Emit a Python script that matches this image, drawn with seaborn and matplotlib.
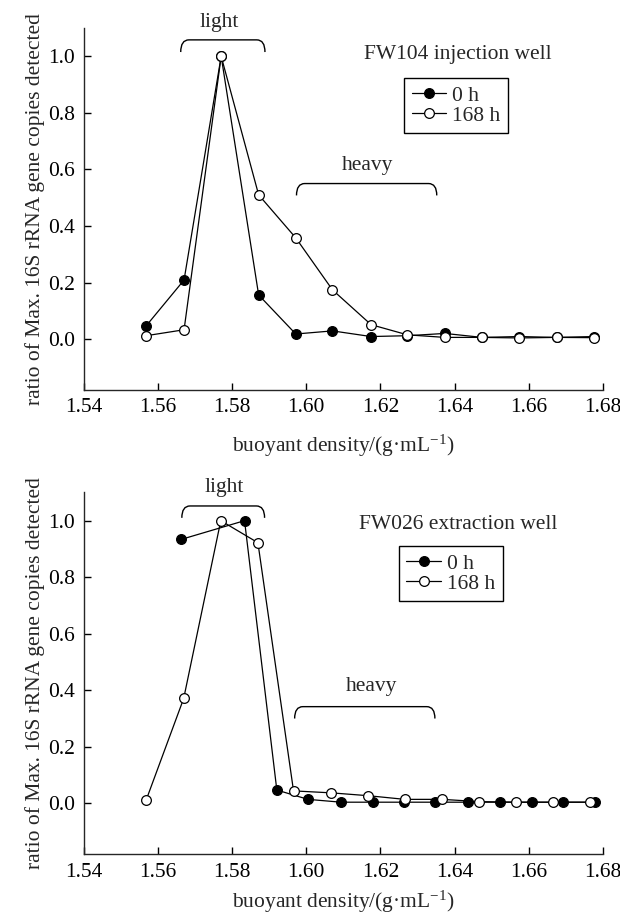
import matplotlib
matplotlib.use("Agg")
import matplotlib.pyplot as plt
from matplotlib.path import Path
from matplotlib.patches import PathPatch
import seaborn as sns
import pandas as pd

# ---------------- data ----------------
top_x = [1.5569, 1.5671, 1.5771, 1.5872, 1.5972, 1.6071, 1.6175,
         1.6273, 1.6374, 1.6474, 1.6574, 1.6675, 1.6776]
top_0h = [0.047, 0.209, 1.0, 0.156, 0.018, 0.029, 0.009,
          0.012, 0.020, 0.006, 0.009, 0.006, 0.009]
top_168h = [0.012, 0.033, 1.0, 0.51, 0.358, 0.174, 0.051,
            0.015, 0.006, 0.006, 0.004, 0.006, 0.005]

bot_x_0h = [1.5664, 1.5834, 1.5921, 1.6005, 1.6094, 1.6181, 1.6264,
            1.6347, 1.6437, 1.6523, 1.6608, 1.6693, 1.6779]
bot_0h = [0.934, 1.0, 0.047, 0.014, 0.004, 0.004, 0.004,
          0.004, 0.004, 0.004, 0.004, 0.004, 0.004]
bot_x_168h = [1.5569, 1.5670, 1.5770, 1.5870, 1.5966, 1.6068, 1.6167,
              1.6266, 1.6367, 1.6466, 1.6566, 1.6665, 1.6765]
bot_168h = [0.012, 0.371, 1.0, 0.922, 0.044, 0.037, 0.027,
            0.014, 0.014, 0.006, 0.004, 0.004, 0.004]

series_labels = ["0 h", "168 h"]
panel_titles = ["FW104 injection well", "FW026 extraction well"]
x_ticks = [1.54, 1.56, 1.58, 1.60, 1.62, 1.64, 1.66, 1.68]
y_ticks = [0.0, 0.2, 0.4, 0.6, 0.8, 1.0]
x_label = "buoyant density/(g·mL$^{-1}$)"
y_label = "ratio of Max. 16S rRNA gene copies detected"

# ---------------- style ----------------
sns.set_style("ticks")
plt.rcParams["font.family"] = ["Liberation Serif", "DejaVu Serif"]
plt.rcParams["mathtext.fontset"] = "custom"
plt.rcParams["mathtext.rm"] = "Liberation Serif"
plt.rcParams["mathtext.it"] = "Liberation Serif:italic"
plt.rcParams["axes.linewidth"] = 1.0

FS = 15.5
W, H = 620, 918
fig = plt.figure(figsize=(W / 100, H / 100), dpi=100)

left = 83.5 / W
width = (603 - 83.5) / W
ax_top = fig.add_axes([left, 1 - 390 / H, width, (390 - 28) / H])
ax_bot = fig.add_axes([left, 1 - 854.2 / H, width, (854.2 - 492.4) / H])


def bracket(ax, x0, x1, ytop, yend, dx=0.0022):
    verts = [(x0, yend), (x0, ytop), (x0 + dx, ytop),
             (x1 - dx, ytop), (x1, ytop), (x1, yend)]
    codes = [Path.MOVETO, Path.CURVE3, Path.CURVE3,
             Path.LINETO, Path.CURVE3, Path.CURVE3]
    patch = PathPatch(Path(verts, codes), facecolor="none", edgecolor="black",
                      lw=1.0, transform=ax.transData, clip_on=False)
    ax.add_patch(patch)


def draw_panel(ax, x0h, y0h, x168, y168, title, title_xy, legend_anchor,
               light, heavy, xlabelpad):
    d0 = pd.DataFrame({"x": x0h, "y": y0h})
    d1 = pd.DataFrame({"x": x168, "y": y168})
    sns.lineplot(data=d0, x="x", y="y", ax=ax, color="black", lw=0.9,
                 marker="o", markersize=7, markerfacecolor="black",
                 markeredgecolor="black", markeredgewidth=0.9,
                 label=series_labels[0], estimator=None, clip_on=False)
    sns.lineplot(data=d1, x="x", y="y", ax=ax, color="black", lw=0.9,
                 marker="o", markersize=7, markerfacecolor="white",
                 markeredgecolor="black", markeredgewidth=0.9,
                 label=series_labels[1], estimator=None, clip_on=False)
    ax.set_xlim(1.54, 1.68)
    ax.set_ylim(-0.18, 1.10)
    ax.set_xticks(x_ticks)
    ax.set_xticklabels([f"{v:.2f}" for v in x_ticks])
    ax.set_yticks(y_ticks)
    ax.set_yticklabels([f"{v:.1f}" for v in y_ticks])
    ax.tick_params(direction="in", length=5, width=1.0, labelsize=FS,
                   colors="black", pad=6)
    ax.set_xlabel(x_label, fontsize=FS, labelpad=xlabelpad)
    ax.set_ylabel(y_label, fontsize=FS, labelpad=2)
    sns.despine(ax=ax)
    ax.text(title_xy[0], title_xy[1], title, fontsize=FS,
            ha="center", va="center")
    leg = ax.legend(loc="upper left", bbox_to_anchor=legend_anchor,
                    borderaxespad=0, fontsize=FS, frameon=True,
                    fancybox=False, edgecolor="black", framealpha=1,
                    handlelength=1.6, handletextpad=0.3, labelspacing=0.0,
                    borderpad=0.35)
    leg.get_frame().set_linewidth(1.0)
    # brackets
    bracket(ax, *light[:4])
    ax.text(light[4], light[5], "light", fontsize=FS, ha="center",
            va="center", clip_on=False)
    bracket(ax, *heavy[:4])
    ax.text(heavy[4], heavy[5], "heavy", fontsize=FS, ha="center",
            va="center")


draw_panel(ax_top, top_x, top_0h, top_x, top_168h, panel_titles[0],
           (1.6408, 1.005), (0.617, 0.862),
           (1.5662, 1.5889, 1.058, 1.015, 1.5767, 1.118),
           (1.5974, 1.6352, 0.55, 0.508, 1.6166, 0.615), 11)
draw_panel(ax_bot, bot_x_0h, bot_0h, bot_x_168h, bot_168h, panel_titles[1],
           (1.6410, 0.985), (0.607, 0.852),
           (1.5665, 1.5888, 1.052, 1.01, 1.5780, 1.116),
           (1.5969, 1.6347, 0.342, 0.30, 1.6176, 0.413), 5)

fig.savefig("out.png", dpi=100)
